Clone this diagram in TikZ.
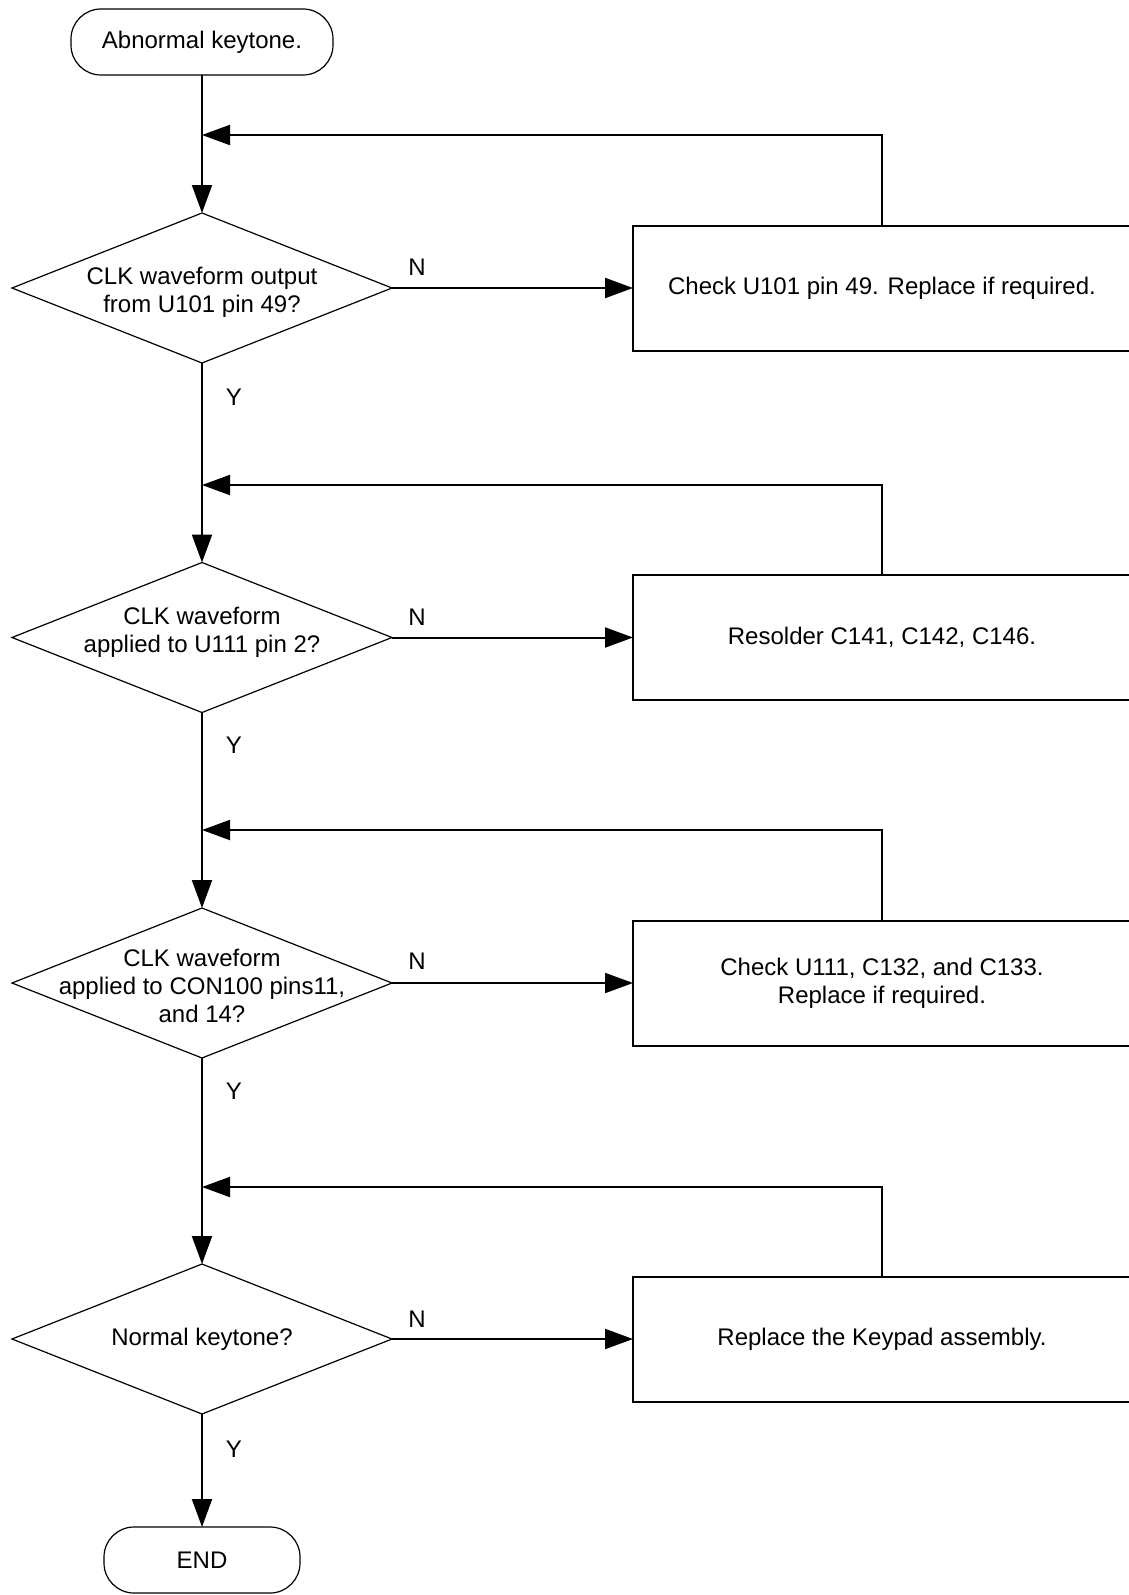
\documentclass[tikz,border=0pt]{standalone}
\usepackage{fontspec}
\setmainfont{Liberation Sans}
\usetikzlibrary{shapes.geometric,arrows.meta}
\begin{document}
\begin{tikzpicture}[x=0.5pt,y=-0.5pt,
  every node/.style={font=\fontsize{12pt}{14pt}\selectfont},
  term/.style={draw,line width=0.6pt,rounded corners=15pt,minimum width=131pt,minimum height=33pt,inner sep=0pt,outer sep=0pt},
  term2/.style={term,minimum width=98pt},
  dec/.style={draw,line width=0.6pt,shape=diamond,minimum width=190pt,minimum height=75pt,inner sep=0pt,outer sep=0pt},
  txt/.style={align=center,inner sep=0pt},
  actbox/.style={draw,line width=1pt,minimum width=249pt,minimum height=62.5pt,inner sep=0pt,outer sep=0pt,align=center},
  lbl/.style={inner sep=0pt},
  flow/.style={line width=1pt,-{Triangle[length=14pt,width=10pt]}}
]
\useasboundingbox (0,0) rectangle (1129,1595);
\fill[white] (0,0) rectangle (1129,1595);

\node[term] (start) at (202,42) {Abnormal keytone.};

\node[dec] (d1) at (202,288) {};
\node[txt] (t1) at (202,292) {CLK waveform output\\from U101 pin 49?};
\node[dec] (d2) at (202,637.5) {};
\node[txt] (t2) at (202,632) {CLK waveform\\applied to U111 pin 2?};
\node[dec] (d3) at (202,983) {};
\node[txt] (t3) at (202,986) {CLK waveform\\applied to CON100 pins11,\\and 14?};
\node[dec] (d4) at (202,1339) {};
\node[txt] (t4) at (202,1339) {Normal keytone?};

\node[term2] (end) at (202,1560) {END};

\node[actbox] (b1) at (882,288) {Check U101 pin 49. Replace if required.};
\node[actbox] (b2) at (882,637.5) {Resolder C141, C142, C146.};
\node[actbox] (b3) at (882,983) {Check U111, C132, and C133.\\Replace if required.};
\node[actbox] (b4) at (882,1339) {Replace the Keypad assembly.};

\coordinate (j1) at (202,135);
\coordinate (j2) at (202,485);
\coordinate (j3) at (202,830);
\coordinate (j4) at (202,1187);

\draw[flow] (start.south) -- (d1.north);
\draw[flow] (d1.south) -- (d2.north);
\draw[flow] (d2.south) -- (d3.north);
\draw[flow] (d3.south) -- (d4.north);
\draw[flow] (d4.south) -- (end.north);

\draw[flow] (d1.east) -- (b1.west);
\draw[flow] (d2.east) -- (b2.west);
\draw[flow] (d3.east) -- (b3.west);
\draw[flow] (d4.east) -- (b4.west);

\draw[flow] (b1.north) |- (j1);
\draw[flow] (b2.north) |- (j2);
\draw[flow] (b3.north) |- (j3);
\draw[flow] (b4.north) |- (j4);

\node[lbl] (n1) at (417,267) {N};
\node[lbl] (n2) at (417,617) {N};
\node[lbl] (n3) at (417,961) {N};
\node[lbl] (n4) at (417,1319) {N};
\node[lbl] (y1) at (234,397) {Y};
\node[lbl] (y2) at (234,745) {Y};
\node[lbl] (y3) at (234,1091) {Y};
\node[lbl] (y4) at (234,1449) {Y};
\end{tikzpicture}
\end{document}
